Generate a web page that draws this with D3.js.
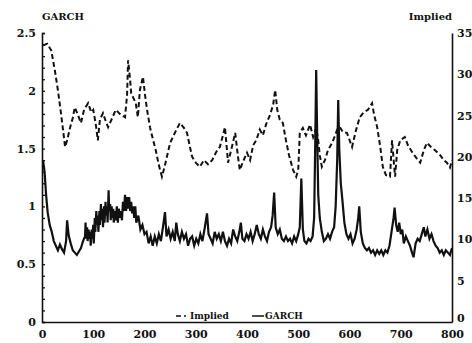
<!DOCTYPE html>
<html>
<head>
<meta charset="utf-8">
<script src="https://cdn.jsdelivr.net/npm/d3@7"></script>
<style>
  body { margin: 0; background: #fff; }
  svg text { font-family: "DejaVu Serif", serif; font-weight: bold; fill: #111; }
</style>
</head>
<body>
<div id="chart"></div>
<script>
// implied volatility (right axis), day index and value
var impliedDays = [2, 10, 18, 25, 31, 37, 41, 45, 49, 55, 60, 64, 70, 76, 82, 90, 96, 100, 105, 109,
    113, 119, 125, 129, 137, 144, 152, 162, 166, 168, 172, 174, 180, 183, 187, 191, 197, 201, 205, 211,
    217, 222, 228, 234, 240, 250, 260, 269, 277, 283, 289, 293, 300, 308, 316, 324, 332, 340, 347, 353,
    357, 363, 369, 377, 382, 386, 392, 400, 406, 412, 418, 425, 431, 437, 445, 451, 455, 459, 464, 470,
    476, 482, 490, 496, 500, 503, 509, 515, 523, 529, 535, 539, 542, 546, 552, 558, 566, 572, 576, 581,
    587, 595, 605, 613, 620, 628, 636, 644, 648, 654, 660, 665, 671, 679, 683, 687, 689, 693, 699, 708,
    714, 722, 730, 738, 745, 751, 759, 767, 777, 784, 790, 796, 800]
var impliedVals = [33.5, 33.7, 32.9, 30.5, 28.1, 25.3, 23.3, 21.2, 22.0, 23.6, 24.7, 26.0, 25.1, 24.1, 25.7, 26.5, 25.4, 25.7, 23.9, 22.0,
    24.5, 25.3, 24.2, 23.6, 24.7, 25.7, 25.2, 24.8, 27.5, 31.7, 29.3, 27.7, 26.9, 26.5, 24.8, 28.1, 29.7, 27.5, 25.7, 23.5,
    22.0, 20.8, 19.0, 17.6, 19.0, 21.7, 23.0, 24.1, 23.5, 22.9, 21.1, 20.0, 19.3, 18.8, 19.6, 19.1, 19.6, 20.6, 21.2, 22.6,
    23.6, 19.3, 20.8, 22.9, 20.2, 18.4, 19.4, 20.5, 19.6, 21.4, 22.0, 23.3, 22.6, 23.9, 25.1, 26.3, 28.1, 25.7, 24.5, 24.1,
    22.0, 20.2, 18.4, 17.6, 18.4, 22.9, 23.5, 22.6, 23.9, 22.4, 23.5, 22.0, 20.2, 18.8, 19.6, 20.8, 21.7, 22.6, 23.3, 23.6,
    23.0, 22.9, 21.2, 23.3, 24.8, 25.4, 25.7, 26.5, 25.1, 23.6, 21.2, 18.8, 17.8, 17.6, 22.0, 19.0, 17.6, 20.8, 22.0, 22.4,
    21.4, 20.6, 19.9, 19.3, 20.8, 21.7, 21.2, 20.8, 20.2, 19.6, 19.3, 18.7, 19.6]

// GARCH volatility (left axis)
var garchDays = [2, 5, 8, 11, 15, 19, 23, 27, 31, 35, 39, 43, 47, 49, 52, 56, 60, 64, 68, 72,
    76, 80, 84, 85, 86, 88, 89, 91, 92, 94, 95, 97, 98, 100, 101, 103, 104, 106, 107, 109,
    110, 112, 113, 115, 116, 118, 119, 121, 122, 124, 125, 127, 128, 130, 131, 133, 134, 136, 137, 139,
    140, 142, 144, 146, 148, 150, 152, 154, 156, 158, 160, 162, 164, 166, 168, 170, 172, 174, 176, 178,
    180, 182, 184, 188, 192, 196, 200, 204,
    208, 212, 216, 220, 224, 228, 232, 236, 240, 243, 247, 251, 255, 259, 262, 265, 269, 273, 277, 281,
    285, 289, 293, 297, 301, 305, 309, 313, 317, 322, 325, 329, 333, 337, 341, 345, 349, 353, 357, 361,
    365, 369, 373, 377, 381, 385, 388, 391, 395, 399, 403, 407, 411, 415, 419, 423, 427, 431, 435, 439,
    443, 447, 450, 453, 456, 460, 464, 468, 472, 476, 480, 484, 488, 492, 496, 500, 503, 506, 509, 512,
    516, 520, 524, 528, 531, 533, 535, 537, 539, 542, 546, 550, 554, 558, 562, 566, 570, 573, 576, 578,
    580, 583, 586, 590, 594, 598, 602, 606, 610, 614, 617, 619, 622, 626, 630, 634, 638, 642, 646, 650,
    654, 658, 662, 666, 670, 674, 678, 682, 686, 688, 691, 694, 697, 700, 703, 706, 710, 714, 718, 722,
    725, 729, 733, 737, 741, 745, 748, 752, 756, 760, 764, 768, 772, 776, 780, 784, 788, 792, 796, 800]
var garchVals = [1.40, 1.30, 1.10, 0.95, 0.84, 0.78, 0.70, 0.66, 0.62, 0.67, 0.63, 0.60, 0.70, 0.88, 0.75, 0.68, 0.62, 0.60, 0.58, 0.61,
    0.64, 0.70, 0.74, 0.86, 0.72, 0.82, 0.70, 0.80, 0.72, 0.78, 0.66, 0.80, 0.72, 0.84, 0.68, 0.90, 0.78, 0.96, 0.84, 0.92,
    0.78, 0.96, 0.84, 1.02, 0.88, 0.98, 0.82, 1.00, 0.86, 1.04, 0.92, 1.00, 0.86, 1.14, 0.96, 1.02, 0.88, 1.00, 0.90, 0.98,
    0.86, 0.96, 0.88, 1.00, 0.86, 0.98, 0.90, 0.96, 0.88, 1.04, 0.96, 1.10, 0.96, 1.08, 0.98, 1.08, 0.96, 1.04, 0.94, 1.00,
    0.90, 1.00, 0.86, 0.92, 0.80, 0.84, 0.76, 0.78,
    0.68, 0.74, 0.66, 0.74, 0.68, 0.76, 0.70, 0.82, 0.95, 0.74, 0.80, 0.72, 0.78, 0.70, 0.86, 0.76, 0.70, 0.78, 0.72, 0.76,
    0.66, 0.72, 0.74, 0.66, 0.72, 0.68, 0.76, 0.70, 0.80, 0.94, 0.76, 0.72, 0.68, 0.78, 0.72, 0.76, 0.70, 0.78, 0.70, 0.66,
    0.72, 0.68, 0.80, 0.74, 0.70, 0.78, 0.86, 0.72, 0.70, 0.76, 0.72, 0.78, 0.70, 0.76, 0.84, 0.76, 0.72, 0.80, 0.74, 0.70,
    0.78, 0.82, 0.92, 1.12, 0.82, 0.76, 0.80, 0.72, 0.70, 0.74, 0.70, 0.72, 0.68, 0.74, 0.70, 0.76, 0.82, 1.24, 0.80, 0.70,
    0.68, 0.72, 0.70, 0.74, 0.90, 1.50, 2.18, 1.60, 1.10, 0.90, 0.78, 0.70, 0.72, 0.76, 0.72, 0.78, 0.82, 1.00, 1.40, 1.92,
    1.50, 1.20, 1.06, 0.86, 0.76, 0.72, 0.76, 0.68, 0.72, 0.80, 0.90, 1.00, 0.78, 0.68, 0.64, 0.62, 0.64, 0.60, 0.62, 0.58,
    0.62, 0.59, 0.62, 0.58, 0.62, 0.60, 0.66, 0.78, 0.90, 0.99, 0.84, 0.78, 0.86, 0.76, 0.80, 0.68, 0.74, 0.70, 0.66, 0.60,
    0.56, 0.68, 0.72, 0.70, 0.76, 0.82, 0.74, 0.80, 0.72, 0.76, 0.70, 0.66, 0.64, 0.60, 0.62, 0.58, 0.62, 0.60, 0.58, 0.64]

var xTicks = [0, 100, 200, 300, 400, 500, 600, 700, 800]
var leftMajor = [0, 0.5, 1, 1.5, 2, 2.5]
var rightTicks = [0, 5, 10, 15, 20, 25, 30, 35]

var width = 472, height = 343
var margin = {top: 33, right: 20, bottom: 21, left: 42}

const svg = d3.select("#chart")
    .append("svg")
    .attr("width", width)
    .attr("height", height)

var x = d3.scaleLinear().domain([0, 800]).range([margin.left, width - margin.right])
var yLeft = d3.scaleLinear().domain([0, 2.5]).range([height - margin.bottom, margin.top])
var yRight = d3.scaleLinear().domain([0, 35]).range([height - margin.bottom, margin.top])

var implied = impliedDays.map((d, i) => [d, impliedVals[i]])
var garch = garchDays.map((d, i) => [d, garchVals[i]])

// lines
svg.append("path")
    .datum(implied)
    .attr("fill", "none")
    .attr("stroke", "#111")
    .attr("stroke-width", 2)
    .attr("stroke-dasharray", "5,3")
    .attr("d", d3.line().x(d => x(d[0])).y(d => yRight(d[1])))

svg.append("path")
    .datum(garch)
    .attr("fill", "none")
    .attr("stroke", "#111")
    .attr("stroke-width", 2.2)
    .attr("d", d3.line().x(d => x(d[0])).y(d => yLeft(d[1])))

// axes
var minor = d3.range(0, 26).map(i => i / 10)
svg.append("g")
    .attr("transform", "translate(" + margin.left + ",0)")
    .call(d3.axisLeft(yLeft).tickValues(minor).tickSize(-3).tickPadding(6)
        .tickFormat(d => leftMajor.some(m => Math.abs(m - d) < 1e-6) ? d3.format("~g")(d) : ""))

var rightAxis = svg.append("g")
    .attr("transform", "translate(" + (width - margin.right) + ",0)")
    .call(d3.axisRight(yRight).tickValues(rightTicks).tickSize(0).tickPadding(5))
// the bottom "0" sits a little higher so it clears the "800" label
rightAxis.selectAll(".tick text").filter(d => d === 0).attr("dy", "-0.05em")

svg.append("g")
    .attr("transform", "translate(0," + (height - margin.bottom) + ")")
    .call(d3.axisBottom(x).tickValues(xTicks).tickSize(0).tickPadding(8))

svg.selectAll(".domain").attr("stroke", "#111").attr("stroke-width", 1.6)
svg.selectAll(".tick line").attr("stroke", "#111").attr("stroke-width", 1.3)
svg.selectAll(".tick text").attr("font-size", 11).style("font-family", "DejaVu Serif, serif").style("font-weight", "bold")

// titles
svg.append("text").attr("x", margin.left).attr("y", 20).attr("font-size", 10).text("GARCH")
svg.append("text").attr("x", width - margin.right).attr("y", 20).attr("text-anchor", "end").attr("font-size", 10).text("Implied")

// legend
var leg = svg.append("g").attr("transform", "translate(176,319)")
leg.append("line").attr("x1", 0).attr("x2", 5).attr("y1", -3).attr("y2", -3).attr("stroke", "#111").attr("stroke-width", 1.5)
leg.append("circle").attr("cx", 9).attr("cy", -3).attr("r", 1).attr("fill", "#111")
leg.append("text").attr("x", 14).attr("y", 0).attr("font-size", 9).text("Implied")
leg.append("line").attr("x1", 76).attr("x2", 88).attr("y1", -3).attr("y2", -3).attr("stroke", "#111").attr("stroke-width", 1.5)
leg.append("text").attr("x", 89).attr("y", 0).attr("font-size", 9).text("GARCH")
</script>
</body>
</html>
